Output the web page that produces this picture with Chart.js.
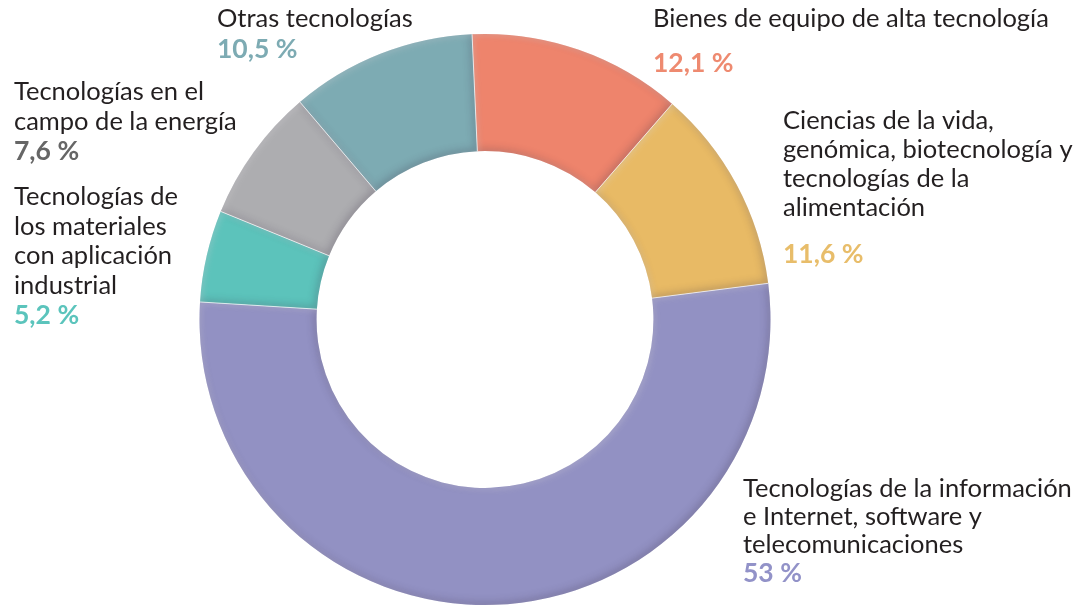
<!DOCTYPE html>
<html lang="es">
<head>
<meta charset="UTF-8">
<title>Distribución por tecnologías</title>
<script src="https://cdn.jsdelivr.net/npm/chart.js"></script>
<style>
    html, body { margin: 0; padding: 0; background: #fff; }
    #wrap { width: 1079px; height: 606px; position: relative; }
</style>
</head>
<body>
<div id="wrap"><canvas id="chart" width="1079" height="606"></canvas></div>
<script>
    // Data
    const categories = [
        ['Bienes de equipo de alta tecnología'],
        ['Ciencias de la vida,', 'genómica, biotecnología y', 'tecnologías de la', 'alimentación'],
        ['Tecnologías de la información', 'e Internet, software y', 'telecomunicaciones'],
        ['Tecnologías de', 'los materiales', 'con aplicación', 'industrial'],
        ['Tecnologías en el', 'campo de la energía'],
        ['Otras tecnologías']
    ];
    const values = [12.1, 11.6, 53, 5.2, 7.6, 10.5];
    const sliceColors = ['#ee846c', '#e8ba65', '#9291c3', '#5cc3bb', '#adadb0', '#7dabb3'];
    const pctColors = ['#ee8a70', '#e8bd6a', '#9292c8', '#5bc4bc', '#666666', '#7dabb3'];

    // label layout: left x, first baseline, line gap, extra gap before percent
    const labelPos = [
        { x: 653, y: 27, gap: 30, pctGap: 45 },
        { x: 783, y: 129, gap: 29, pctGap: 47 },
        { x: 743, y: 497, gap: 28, pctGap: 29 },
        { x: 14, y: 205, gap: 29.5, pctGap: 30 },
        { x: 14, y: 100, gap: 29.5, pctGap: 30 },
        { x: 217, y: 27, gap: 30, pctGap: 31 }
    ];

    const fmtPct = v => String(v).replace('.', ',') + ' %';

    function addArc(ctx, a, dx) {
        dx = dx || 0;
        ctx.moveTo(a.x + dx + a.outerRadius * Math.cos(a.startAngle), a.y + a.outerRadius * Math.sin(a.startAngle));
        ctx.arc(a.x + dx, a.y, a.outerRadius, a.startAngle, a.endAngle);
        ctx.arc(a.x + dx, a.y, a.innerRadius, a.endAngle, a.startAngle, true);
        ctx.closePath();
    }

    // soft bevel on each slice (inner shadow cast from far-away shape)
    const FAR = 10000;
    const bevel = {
        id: 'bevel',
        afterDatasetsDraw(chart) {
            const ctx = chart.ctx;
            const arcs = chart.getDatasetMeta(0).data.map(el =>
                el.getProps(['x', 'y', 'startAngle', 'endAngle', 'innerRadius', 'outerRadius'], true));
            arcs.forEach(a => {
                const passes = [
                    { color: 'rgba(50,40,60,0.26)', ox: -2, oy: -2, blur: 8 },
                    { color: 'rgba(255,255,255,0.22)', ox: 2, oy: 2, blur: 6 }
                ];
                passes.forEach(p => {
                    ctx.save();
                    ctx.beginPath();
                    addArc(ctx, a);
                    ctx.clip();
                    ctx.beginPath();
                    ctx.rect(FAR - 2000, -2000, 5000, 5000);
                    addArc(ctx, a, FAR);
                    ctx.shadowColor = p.color;
                    ctx.shadowBlur = p.blur;
                    ctx.shadowOffsetX = p.ox - FAR;
                    ctx.shadowOffsetY = p.oy;
                    ctx.fillStyle = '#000';
                    ctx.fill('evenodd');
                    ctx.restore();
                });
            });
            // light separators between slices
            ctx.save();
            ctx.strokeStyle = 'rgba(255,255,255,0.7)';
            ctx.lineWidth = 1;
            arcs.forEach(a => {
                ctx.beginPath();
                ctx.moveTo(a.x + a.innerRadius * Math.cos(a.startAngle), a.y + a.innerRadius * Math.sin(a.startAngle));
                ctx.lineTo(a.x + a.outerRadius * Math.cos(a.startAngle), a.y + a.outerRadius * Math.sin(a.startAngle));
                ctx.stroke();
            });
            ctx.restore();
        }
    };

    const outsideLabels = {
        id: 'outsideLabels',
        afterDraw(chart) {
            const ctx = chart.ctx;
            ctx.save();
            ctx.textBaseline = 'alphabetic';
            ctx.textAlign = 'left';
            categories.forEach((lines, i) => {
                const p = labelPos[i];
                ctx.font = '25.5px Lato';
                ctx.fillStyle = '#231f20';
                lines.forEach((t, j) => ctx.fillText(t, p.x, p.y + j * p.gap));
                ctx.font = 'bold 26.5px Lato';
                ctx.fillStyle = pctColors[i];
                ctx.fillText(fmtPct(values[i]), p.x, p.y + (lines.length - 1) * p.gap + p.pctGap);
            });
            ctx.restore();
        }
    };

    new Chart(document.getElementById('chart'), {
        type: 'doughnut',
        data: {
            labels: categories.map(l => l.join(' ')),
            datasets: [{
                data: values,
                backgroundColor: sliceColors,
                borderWidth: 0
            }]
        },
        options: {
            responsive: false,
            animation: false,
            rotation: -2.6,
            cutout: '59%',
            layout: { padding: { left: 199, right: 308, top: 34, bottom: 1 } },
            plugins: {
                legend: { display: false },
                tooltip: { enabled: false }
            }
        },
        plugins: [bevel, outsideLabels]
    });
</script>
</body>
</html>
